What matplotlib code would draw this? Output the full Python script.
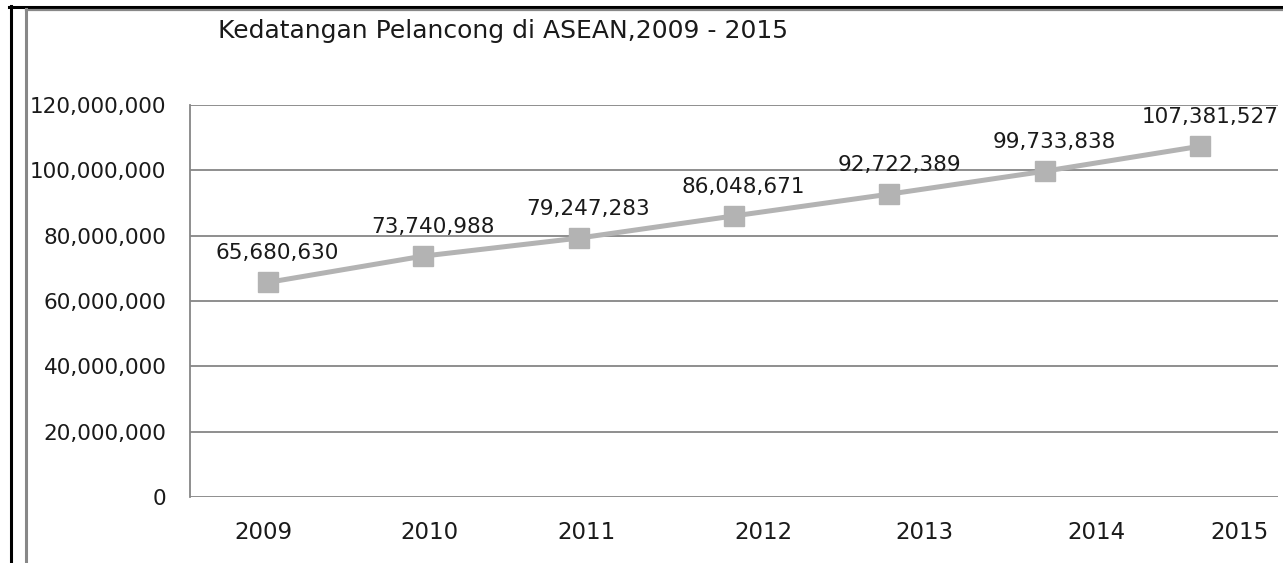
#####################################
# Kedatangan Pelancong di ASEAN     #
# line chart, 2009 - 2015           #
#####################################

###########
# Imports #
###########

import matplotlib
matplotlib.use("Agg")
import matplotlib.pyplot as plt
from matplotlib.lines import Line2D
from matplotlib.ticker import FuncFormatter, MultipleLocator
from matplotlib.transforms import ScaledTranslation

########
# Data #
########

years = ["2009", "2010", "2011", "2012", "2013", "2014", "2015"]
arrivals = [65680630, 73740988, 79247283, 86048671, 92722389, 99733838, 107381527]
title = "Kedatangan Pelancong di ASEAN,2009 - 2015"

# x shift (pixels) of the year labels, the original is a bit off
year_label_shift = [-4, 6, 8, 29, 35, 52, 39]

##########
# Figure #
##########

plt.rcParams["font.family"] = ["DejaVu Sans"]

W, H = 1283, 563
fig = plt.figure(figsize=(W / 100, H / 100), dpi=100)
ax = fig.add_axes([190 / W, 1 - 497 / H, 1088 / W, 392 / H])

grid_col = "#868686"
line_col = "#b3b3b3"
text_col = "#1a1a1a"

# Plotting the data
x = list(range(len(years)))
ax.plot(x, arrivals, color=line_col, linewidth=3.6, marker="s",
        markersize=15, markerfacecolor=line_col, markeredgecolor=line_col,
        zorder=3)

# Value labels above the points
for i, v in enumerate(arrivals):
    ax.annotate(f"{v:,}", (i, v), xytext=(7, 21), textcoords="offset points",
                ha="center", va="center", fontsize=15.5, color=text_col)

# Axes setup
ax.set_xlim(-0.5, len(years) - 0.5)
ax.set_ylim(0, 120000000)
ax.yaxis.set_major_locator(MultipleLocator(20000000))
ax.yaxis.set_major_formatter(FuncFormatter(lambda v, p: f"{int(v):,}"))
ax.grid(axis="y", color=grid_col, linewidth=1.3)
ax.set_axisbelow(True)

for side in ["top", "right", "bottom"]:
    ax.spines[side].set_visible(False)
ax.spines["left"].set_color(grid_col)
ax.spines["left"].set_linewidth(1.3)

ax.set_xticks(x)
ax.set_xticklabels(years)
ax.tick_params(axis="x", length=0, pad=17, labelsize=16.5, labelcolor=text_col)
ax.tick_params(axis="y", length=0, pad=17, labelsize=15.5, labelcolor=text_col)

for lab, dx in zip(ax.get_xticklabels(), year_label_shift):
    lab.set_transform(lab.get_transform() + ScaledTranslation(dx / 100, 0, fig.dpi_scale_trans))

# Title
fig.text(218 / W, 1 - 31 / H, title, ha="left", va="center",
         fontsize=18, color=text_col)

# Frame lines around the chart
fig.add_artist(Line2D([9 / W, 1], [1 - 7 / H, 1 - 7 / H], transform=fig.transFigure,
                      color="black", linewidth=2.2))
fig.add_artist(Line2D([26 / W, 1], [1 - 9.5 / H, 1 - 9.5 / H], transform=fig.transFigure,
                      color="#888888", linewidth=1.6))
fig.add_artist(Line2D([10.5 / W, 10.5 / W], [0, 1 - 6 / H], transform=fig.transFigure,
                      color="black", linewidth=2.2))
fig.add_artist(Line2D([25.5 / W, 25.5 / W], [0, 1 - 9 / H], transform=fig.transFigure,
                      color="#888888", linewidth=2.2))

# Saving the figure
fig.savefig("out.png", dpi=100)
